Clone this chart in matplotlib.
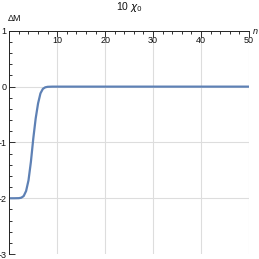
import matplotlib
matplotlib.use("Agg")
import matplotlib.pyplot as plt
from matplotlib.ticker import MultipleLocator

plt.rcParams['font.family'] = ['Liberation Sans', 'DejaVu Sans']

# values
n_vals = [0, 1, 2, 2.5, 3, 3.5, 4, 4.5, 5, 5.5, 6, 6.5, 7, 7.5, 8, 9, 10, 20, 30, 40, 50]
dM_vals = [-2.0, -2.0, -1.998, -1.99, -1.96, -1.87, -1.68, -1.35, -0.93, -0.57, -0.3,
           -0.12, -0.04, -0.012, -0.003, 0.0, 0.0, 0.0, 0.0, 0.0, 0.0]
x_ticks = [10, 20, 30, 40, 50]
y_ticks = [1, 0, -1, -2, -3]

fig = plt.figure(figsize=(2.59, 2.59), dpi=100)
ax = fig.add_axes([0.036, 0.019, 0.925, 0.862])

ax.plot(n_vals, dM_vals, color='#5E81B5', lw=1.6, solid_capstyle='round')

ax.set_xlim(0, 50)
ax.set_ylim(-3, 1)

# axes: x axis on top (at y=1), y axis at x=0
ax.spines['right'].set_visible(False)
ax.spines['bottom'].set_visible(False)
for s in ['left', 'top']:
    ax.spines[s].set_color('#222222')
    ax.spines[s].set_linewidth(0.7)

ax.xaxis.set_ticks_position('top')
ax.set_xticks(x_ticks)
ax.xaxis.set_minor_locator(MultipleLocator(2))
ax.set_yticks(y_ticks)
ax.yaxis.set_minor_locator(MultipleLocator(0.2))

ax.tick_params(axis='x', which='both', direction='in', labeltop=True, labelbottom=False,
               pad=-10.5, labelsize=6.5, colors='#111111', width=0.6)
ax.tick_params(axis='x', which='major', length=4)
ax.tick_params(axis='x', which='minor', length=2)
ax.tick_params(axis='y', which='both', direction='in', labelsize=6.5, pad=2,
               colors='#111111', width=0.6)
ax.tick_params(axis='y', which='major', length=4)
ax.tick_params(axis='y', which='minor', length=2)
ax.set_yticklabels([str(v) for v in y_ticks])

for xv in x_ticks:
    ax.axvline(xv, color='#dddddd', lw=0.8, zorder=0)
for yv in [0, -1, -2]:
    ax.axhline(yv, color='#dddddd', lw=0.8, zorder=0)

fig.text(0.055, 0.93, 'ΔM', fontsize=6.5, color='#111111', ha='center', va='center')
fig.text(0.985, 0.88, 'n', fontsize=6.5, color='#111111', style='italic', ha='center', va='center')
fig.text(0.5, 0.972, r'10 $\chi_0$', fontsize=7.5, color='#111111', ha='center', va='center')

fig.savefig('out.png', dpi=100)
